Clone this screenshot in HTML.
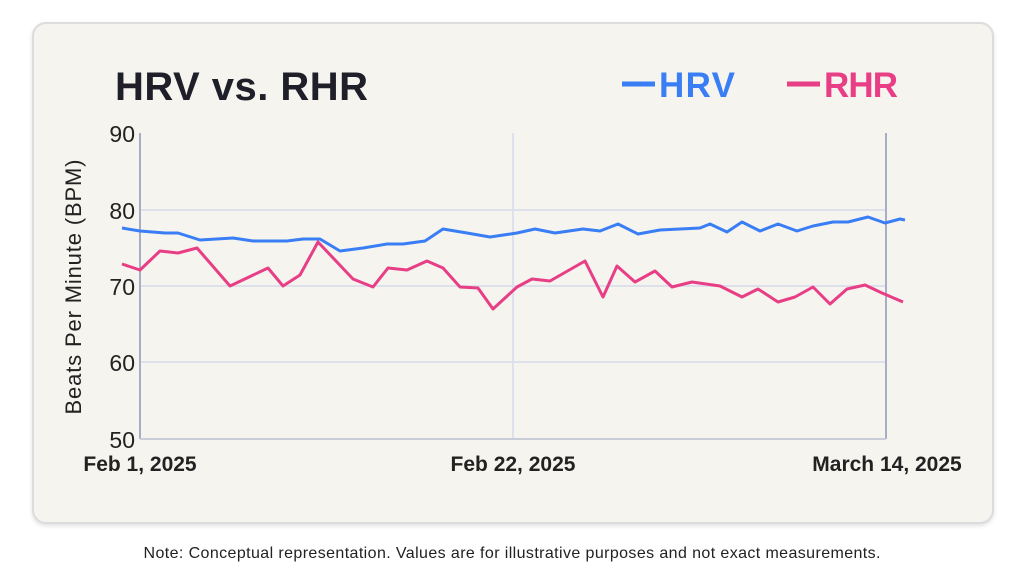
<!DOCTYPE html>
<html><head><style>
body{margin:0;width:1024px;height:576px;background:#fff;font-family:"Liberation Sans",sans-serif;position:relative;overflow:hidden}
.card{position:absolute;left:32px;top:22px;width:958px;height:498px;background:#f6f4ef;border:2px solid #dcdcdc;border-radius:14px;box-shadow:0 2px 4px rgba(0,0,0,.12)}
</style></head><body>
<div class="card"></div>
<svg width="1024" height="576" style="position:absolute;left:0;top:0" font-family="Liberation Sans, sans-serif">
<text x="115" y="100" font-size="40" font-weight="bold" fill="#1f1f2a" textLength="253">HRV vs. RHR</text>
<line x1="622" y1="84" x2="655" y2="84" stroke="#3a7ef5" stroke-width="5"/>
<text x="659" y="97" font-size="35" font-weight="bold" fill="#3a7ef5" textLength="76">HRV</text>
<line x1="787" y1="84" x2="820" y2="84" stroke="#e83e86" stroke-width="5"/>
<text x="824" y="97" font-size="35" font-weight="bold" fill="#e83e86" textLength="74">RHR</text>
<g stroke="#dde1ec" stroke-width="2">
<line x1="140" y1="210" x2="886" y2="210"/><line x1="140" y1="286" x2="886" y2="286"/><line x1="140" y1="362" x2="886" y2="362"/>
<line x1="513" y1="133" x2="513" y2="439"/></g>
<g stroke="#a7adc4" stroke-width="2"><line x1="140" y1="133" x2="140" y2="439"/><line x1="886" y1="133" x2="886" y2="439"/>
<line x1="140" y1="439" x2="886" y2="439" stroke="#c9cdda"/></g>
<g font-size="23" fill="#222" text-anchor="end">
<text x="135" y="142">90</text><text x="135" y="219">80</text><text x="135" y="295">70</text><text x="135" y="371">60</text><text x="135" y="448">50</text></g>
<text transform="translate(81,287) rotate(-90)" font-size="22" fill="#222" text-anchor="middle" textLength="255">Beats Per Minute (BPM)</text>
<g font-size="21" font-weight="bold" fill="#222" text-anchor="middle">
<text x="140" y="471">Feb 1, 2025</text><text x="513" y="471">Feb 22, 2025</text><text x="887" y="471">March 14, 2025</text></g>
<polyline fill="none" stroke="#3a7ef5" stroke-width="3" stroke-linejoin="round" points="122,228 140,231 165,233 178,233 200,240 233,238 253,241 287,241 303,239 320,239 340,251 363,248 387,244 403,244 425,241 443,229 467,233 490,237 517,233 535,229 555,233 583,229 600,231 618,224 638,234 660,230 700,228 710,224 727,232 742,222 760,231 778,224 797,231 813,226 833,222 848,222 868,217 885,223 900,219 905,220"/>
<polyline fill="none" stroke="#e83e86" stroke-width="3" stroke-linejoin="round" points="122,264 140,270 160,251 178,253 197,248 230,286 268,268 283,286 300,275 318,242 353,279 373,287 388,268 407,270 427,261 443,268 460,287 478,288 493,309 517,287 532,279 550,281 585,261 603,297 617,266 635,282 655,271 672,287 692,282 720,286 742,297 758,289 778,302 795,297 813,287 830,304 847,289 865,285 882,293 903,302"/>
<text x="512" y="558" font-size="16" fill="#222" text-anchor="middle" textLength="737">Note: Conceptual representation. Values are for illustrative purposes and not exact measurements.</text>
</svg>
</body></html>
